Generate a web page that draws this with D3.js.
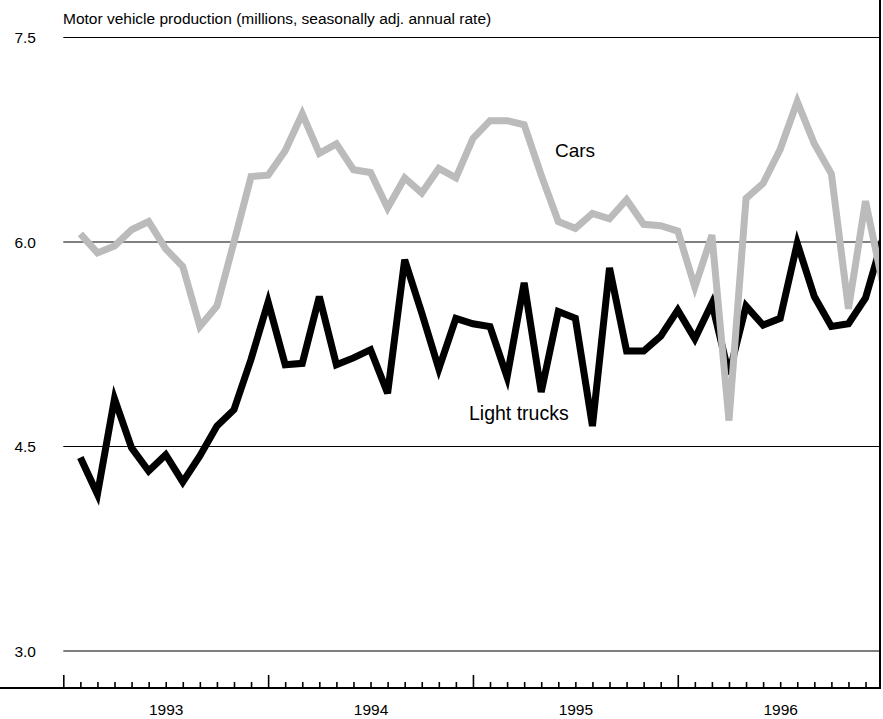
<!DOCTYPE html>
<html lang="en">
  <head>
    <meta charset="UTF-8" />
    <title>Motor vehicle production</title>
    <script src="https://d3js.org/d3.v7.min.js"></script>
    <style>
      body {
        margin: 0;
        background: #fff;
      }
      text {
        font-family: "Liberation Sans", Arial, sans-serif;
        fill: #000;
      }
      .grid line {
        stroke: #000;
        stroke-width: 1px;
        shape-rendering: auto;
      }
      .series {
        fill: none;
        stroke-width: 7px;
      }
    </style>
  </head>
  <body>
    <div id="chart"></div>

    <script>
      // monthly data, Feb 1993 .. Jan 1997 (millions, SAAR)
      const months = [
        "1993-02", "1993-03", "1993-04", "1993-05", "1993-06", "1993-07",
        "1993-08", "1993-09", "1993-10", "1993-11", "1993-12", "1994-01",
        "1994-02", "1994-03", "1994-04", "1994-05", "1994-06", "1994-07",
        "1994-08", "1994-09", "1994-10", "1994-11", "1994-12", "1995-01",
        "1995-02", "1995-03", "1995-04", "1995-05", "1995-06", "1995-07",
        "1995-08", "1995-09", "1995-10", "1995-11", "1995-12", "1996-01",
        "1996-02", "1996-03", "1996-04", "1996-05", "1996-06", "1996-07",
        "1996-08", "1996-09", "1996-10", "1996-11", "1996-12", "1997-01",
      ];
      const cars = [
        6.06, 5.92, 5.97, 6.09, 6.15, 5.95, 5.82, 5.38, 5.53, 6.0, 6.48, 6.49,
        6.67, 6.94, 6.65, 6.72, 6.53, 6.51, 6.25, 6.47, 6.36, 6.54, 6.47, 6.76,
        6.89, 6.89, 6.86, 6.49, 6.15, 6.1, 6.21, 6.17, 6.31, 6.13, 6.12, 6.08,
        5.67, 6.05, 4.69, 6.32, 6.43, 6.68, 7.03, 6.72, 6.5, 5.51, 6.3, 5.7,
      ];
      const lightTrucks = [
        4.42, 4.15, 4.85, 4.49, 4.32, 4.44, 4.24, 4.43, 4.65, 4.77, 5.14, 5.56,
        5.1, 5.11, 5.6, 5.1, 5.15, 5.21, 4.89, 5.87, 5.48, 5.07, 5.44, 5.4,
        5.38, 5.01, 5.7, 4.9, 5.49, 5.44, 4.65, 5.81, 5.2, 5.2, 5.31, 5.5,
        5.29, 5.55, 5.03, 5.53, 5.39, 5.44, 5.99, 5.6, 5.38, 5.4, 5.59, 6.02,
      ];
      const yTicks = [3.0, 4.5, 6.0, 7.5];
      const years = ["1993", "1994", "1995", "1996"];

      const width = 883,
        height = 719;

      const svg = d3
        .select("#chart")
        .append("svg")
        .attr("width", width)
        .attr("height", height);

      // month index: 0 = Jan 1993
      const monthIndex = (s) => {
        const d = d3.timeParse("%Y-%m")(s);
        return (d.getFullYear() - 1993) * 12 + d.getMonth();
      };

      const x = d3.scaleLinear().domain([0, 48]).range([63.3, 882.6]);
      const y = d3.scaleLinear().domain([3, 7.5]).range([651, 37.5]);

      const baseY = 688;
      const rightX = 880;

      // horizontal grid lines
      const grid = svg.append("g").attr("class", "grid");
      grid
        .selectAll("line")
        .data(yTicks)
        .enter()
        .append("line")
        .attr("x1", x(0))
        .attr("x2", rightX)
        .attr("y1", (d) => y(d))
        .attr("y2", (d) => y(d));

      svg
        .append("g")
        .selectAll("text")
        .data(yTicks)
        .enter()
        .append("text")
        .attr("x", 36)
        .attr("y", (d) => y(d))
        .attr("dy", "0.36em")
        .attr("text-anchor", "end")
        .style("font-size", "15.5px")
        .text((d) => d3.format(".1f")(d));

      // title
      svg
        .append("text")
        .attr("x", 63)
        .attr("y", 24)
        .style("font-size", "15.5px")
        .text("Motor vehicle production (millions, seasonally adj. annual rate)");

      // lines, clipped at the right border
      svg
        .append("clipPath")
        .attr("id", "plot-clip")
        .append("rect")
        .attr("x", 0)
        .attr("y", 0)
        .attr("width", rightX)
        .attr("height", baseY);

      const line = d3
        .line()
        .x((d) => x(d.m))
        .y((d) => y(d.v));

      const plot = svg.append("g").attr("clip-path", "url(#plot-clip)");

      plot
        .append("path")
        .datum(months.map((m, i) => ({ m: monthIndex(m), v: lightTrucks[i] })))
        .attr("class", "series")
        .attr("stroke", "#000")
        .attr("d", line);

      plot
        .append("path")
        .datum(months.map((m, i) => ({ m: monthIndex(m), v: cars[i] })))
        .attr("class", "series")
        .attr("stroke", "#bbbbbb")
        .attr("d", line);

      // series labels
      svg
        .append("text")
        .attr("x", 555)
        .attr("y", 157)
        .style("font-size", "19px")
        .text("Cars");

      svg
        .append("text")
        .attr("x", 469)
        .attr("y", 420)
        .style("font-size", "19.5px")
        .text("Light trucks");

      // x axis: minor month ticks and major year ticks pointing up
      const minorTicks = d3.range(0, 48).filter((i) => i % 12 !== 0);
      const majorTicks = d3.range(0, 48, 12);

      const minorAxis = d3
        .axisTop(x)
        .tickValues(minorTicks)
        .tickSize(6)
        .tickFormat("");
      const majorAxis = d3
        .axisTop(x)
        .tickValues(majorTicks)
        .tickSize(13)
        .tickFormat("");

      [minorAxis, majorAxis].forEach((ax) => {
        const g = svg
          .append("g")
          .attr("transform", `translate(0,${baseY})`)
          .call(ax);
        g.select(".domain").remove();
        g.selectAll(".tick line")
          .attr("stroke", "#000")
          .attr("stroke-width", 1.6);
      });

      // year labels centred on each year
      const labelAxis = d3
        .axisBottom(x)
        .tickValues(majorTicks.map((m) => m + 6))
        .tickSize(0)
        .tickPadding(0)
        .tickFormat((d, i) => years[i]);
      const lg = svg
        .append("g")
        .attr("transform", `translate(0,${baseY})`)
        .call(labelAxis);
      lg.select(".domain").remove();
      lg.selectAll("text")
        .attr("y", 27)
        .attr("dy", 0)
        .style("font-size", "15.5px")
        .style("font-family", '"Liberation Sans", Arial, sans-serif');

      // base line and right border
      svg
        .append("line")
        .attr("x1", 0)
        .attr("x2", rightX + 1)
        .attr("y1", baseY)
        .attr("y2", baseY)
        .attr("stroke", "#000")
        .attr("stroke-width", 2);

      svg
        .append("line")
        .attr("x1", rightX)
        .attr("x2", rightX)
        .attr("y1", 0)
        .attr("y2", baseY + 1)
        .attr("stroke", "#000")
        .attr("stroke-width", 2);
    </script>
  </body>
</html>
